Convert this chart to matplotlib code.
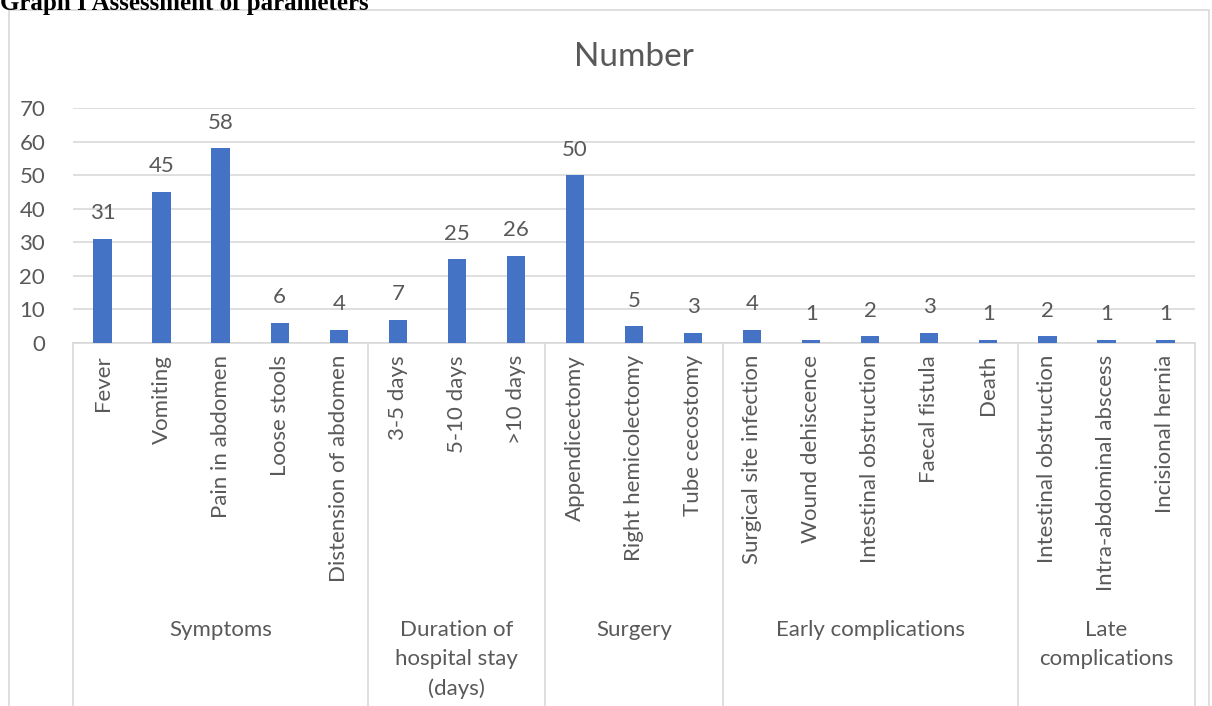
import matplotlib
matplotlib.use("Agg")
import matplotlib.pyplot as plt
import matplotlib.transforms as mtransforms
from matplotlib.patches import Rectangle

# data
groups = ["Symptoms", "Duration of\nhospital stay\n(days)", "Surgery",
          "Early complications", "Late\ncomplications"]
group_sizes = [5, 3, 3, 5, 3]
categories = ["Fever", "Vomiting", "Pain in abdomen", "Loose stools", "Distension of abdomen",
              "3-5 days", "5-10 days", ">10 days",
              "Appendicectomy", "Right hemicolectomy", "Tube cecostomy",
              "Surgical site infection", "Wound dehiscence", "Intestinal obstruction",
              "Faecal fistula", "Death",
              "Intestinal obstruction", "Intra-abdominal abscess", "Incisional hernia"]
values = [31, 45, 58, 6, 4, 7, 25, 26, 50, 5, 3, 4, 1, 2, 3, 1, 2, 1, 1]

plt.rcParams['font.family'] = ['Lato', 'DejaVu Sans']
txt = '#595959'
grid = '#D9D9D9'
blue = '#4472C4'
fs = 16

W, H = 1212, 706
fig = plt.figure(figsize=(W / 100, H / 100), dpi=100)

# chart border
fig.patches.append(Rectangle((9 / W, -0.05), (W - 12) / W, 1 - 10 / H + 0.05,
                             transform=fig.transFigure, fill=False,
                             edgecolor=grid, linewidth=1.2))

# caption of the figure (cut at the top as in the source)
fig.text(0.0, 1 - 10 / H, "Graph I Assessment of parameters", family='Liberation Serif',
         fontweight='bold', fontsize=18, ha='left', va='baseline')

ax = fig.add_axes([73 / W, 1 - 343 / H, (1195 - 73) / W, (343 - 108) / H])
x = list(range(len(values)))
ax.bar(x, values, width=0.31, color=blue, zorder=3)
for xi, v in zip(x, values):
    ax.annotate(str(v), (xi, v), xytext=(0, 14), textcoords='offset points',
                ha='center', va='baseline', fontsize=fs, color=txt)

ax.set_xlim(-0.5, len(values) - 0.5)
ax.set_ylim(0, 70)
ax.set_yticks(range(0, 71, 10))
ax.yaxis.grid(True, color=grid, linewidth=1.2, zorder=0)
ax.tick_params(axis='y', length=0, labelsize=fs, labelcolor=txt, pad=20)
ax.set_xticks([])
for s in ['top', 'right', 'left']:
    ax.spines[s].set_visible(False)
ax.spines['bottom'].set_color(grid)
ax.spines['bottom'].set_linewidth(1.2)

trans = mtransforms.blended_transform_factory(ax.transData, ax.transAxes)
px = 1 / (343 - 108)  # one pixel in axes fraction (vertical)

for xi, lab in zip(x, categories):
    ax.text(xi, -12 * px, lab, transform=trans, rotation=90, ha='center', va='top',
            fontsize=fs, color=txt)

start = 0
edges = [-0.5]
for g, n in zip(groups, group_sizes):
    center = start + (n - 1) / 2
    ax.text(center, -(620 - 343) * px, g, transform=trans, ha='center', va='top',
            fontsize=fs, color=txt, linespacing=1.55)
    start += n
    edges.append(start - 0.5)

for e in edges:
    ax.plot([e, e], [0, -(H - 343) * px - 0.1], transform=trans, color=grid,
            linewidth=1.2, clip_on=False)

ax.set_title("Number", fontsize=24, color=txt, pad=30)

fig.savefig("out.png", dpi=100)
